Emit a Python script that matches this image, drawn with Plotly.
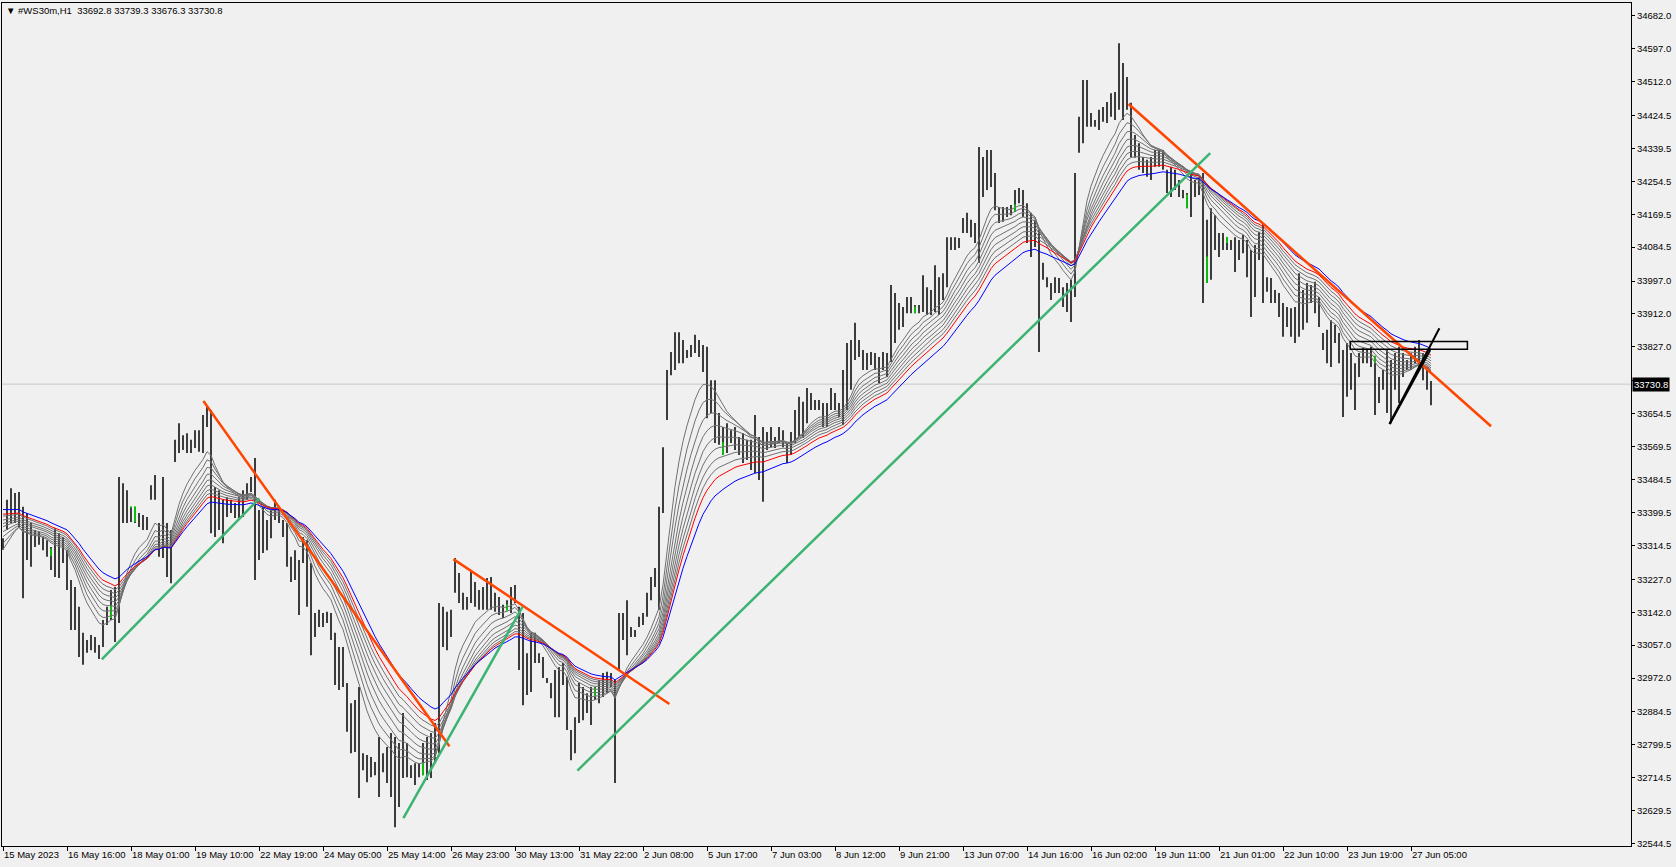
import plotly.graph_objects as go

# ---------------- data (2-hour bars) ----------------
bar_high = [
33333,33432,33462,33450,33452,33414,33398,33372,33354,33349,33336,33328,33310,33359,33346,33336,33302,33225,33207,33156,
33089,33070,33083,33078,33057,33122,33156,33199,33207,33491,33475,33457,33414,33414,33398,33393,33388,33470,33496,33372,
33491,33372,33354,33587,33630,33599,33604,33587,33612,33612,33651,33672,33664,33465,33457,33432,33439,33432,33424,33439,
33457,33475,33491,33540,33406,33414,33380,33406,33432,33411,33380,33372,33285,33302,33277,33336,33328,33269,33140,33148,
33140,33143,33140,33089,33052,33052,32959,32907,32915,32949,32778,32773,32768,32755,32820,32778,32794,32830,32820,32804,
32882,32804,32747,32752,32752,32804,32820,32830,32856,33166,33156,33143,33148,33282,33243,33192,33181,33246,33220,33199,
33207,33230,33233,33192,33181,33161,33173,33207,33212,33156,33140,33036,33089,33089,33036,33026,32972,32959,32993,33000,
33011,32975,32838,32871,32959,32949,32933,32949,32949,32967,32985,32988,32985,32967,33140,33140,33173,33104,33096,33130,
33140,33192,33233,33256,33414,33568,33767,33814,33865,33865,33845,33819,33832,33858,33845,33832,33827,33741,33741,33656,
33620,33630,33612,33620,33594,33604,33587,33587,33651,33594,33620,33607,33620,33594,33620,33612,33579,33607,33664,33698,
33685,33721,33708,33690,33690,33682,33682,33721,33708,33682,33767,33837,33845,33889,33845,33819,33811,33814,33811,33801,
33814,33811,33987,33966,33940,33930,33956,33956,33935,33935,34012,33981,33974,34038,34007,34017,34110,34110,34110,34108,
34160,34173,34155,34147,34343,34317,34335,34335,34276,34188,34188,34188,34193,34232,34237,34232,34198,34173,34155,34129,
34044,34007,33992,34007,34005,33981,33992,34000,34276,34421,34516,34516,34431,34413,34439,34446,34459,34482,34485,34611,
34560,34524,34457,34374,34353,34317,34310,34317,34335,34335,34335,34284,34292,34284,34258,34232,34224,34276,34258,34266,
34276,34155,34185,34167,34121,34121,34110,34103,34110,34103,34116,34103,34077,34090,34124,34147,34007,34005,33974,33966,
33940,33930,33927,33930,34017,33974,33992,33987,33995,33956,33863,33871,33896,33884,33863,33819,33837,33811,33785,33811,
33824,33819,33827,33803,33749,33767,33819,33793,33811,33827,33811,33793,33811,33827,33845,33811,33775,33739]

bar_low = [
33303,33354,33372,33372,33362,33178,33277,33259,33310,33316,33302,33285,33251,33233,33230,33269,33199,33096,33096,33026,
33006,33037,33044,33037,33021,33052,33109,33122,33065,33114,33372,33372,33375,33372,33362,33354,33354,33432,33432,33285,
33282,33233,33217,33530,33553,33561,33553,33553,33566,33556,33553,33620,33346,33336,33354,33320,33388,33398,33385,33385,
33388,33432,33452,33225,33277,33295,33302,33333,33380,33372,33336,33259,33220,33225,33135,33269,33156,33031,33078,33104,
33104,33114,33070,32954,32941,32949,32833,32778,32781,32662,32734,32703,32716,32721,32665,32729,32701,32665,32587,32639,
32714,32716,32714,32696,32716,32721,32709,32714,32752,32778,33052,33044,33078,33192,33166,33148,33148,33166,33156,33148,
33148,33148,33148,33143,33135,33127,33148,33140,33166,32993,32902,32928,32936,33011,33011,32972,32959,32920,32871,32871,
32954,32838,32760,32778,32856,32863,32882,32851,32915,32907,32923,32933,32949,32701,32993,33070,33031,33078,33078,33104,
33109,33130,33173,33207,33148,33398,33638,33754,33767,33785,33785,33798,33801,33811,33801,33762,33643,33656,33579,33574,
33548,33553,33579,33561,33548,33527,33535,33509,33501,33483,33427,33561,33568,33566,33579,33568,33527,33548,33579,33594,
33592,33630,33664,33664,33664,33620,33620,33664,33664,33646,33625,33664,33716,33793,33801,33767,33767,33780,33767,33734,
33767,33749,33788,33837,33871,33878,33914,33914,33914,33914,33917,33909,33909,33917,33909,33948,33981,34077,34077,34082,
34121,34121,34110,34095,34044,34214,34232,34240,34180,34147,34150,34162,34167,34175,34198,34162,34095,34059,34085,33814,
34000,33981,33948,33966,33966,33930,33917,33891,33956,34328,34353,34395,34395,34395,34387,34408,34405,34421,34413,34439,
34413,34439,34317,34315,34284,34276,34266,34258,34292,34292,34284,34224,34214,34232,34214,34211,34185,34162,34214,34219,
33940,33992,34000,34077,34059,34077,34077,34077,34020,34051,34069,34007,33904,33956,34051,33940,33969,33940,33940,33904,
33853,33878,33853,33837,33853,33871,33889,33940,33914,33878,33819,33785,33775,33837,33785,33646,33698,33716,33664,33749,
33785,33785,33775,33651,33682,33716,33656,33630,33716,33682,33749,33767,33767,33785,33767,33741,33716,33676]

# doji bars (drawn in the line-chart colour)
doji_bar = [12, 27, 32, 33, 105, 126, 148, 180, 228, 253, 296, 301, 306, 343]
doji_high = [33305, 33158, 33414, 33414, 32752, 33161, 32946, 33579, 33930, 34193, 34219, 34059, 34110, 33803]
doji_low = [33287, 33127, 33411, 33375, 32721, 33143, 32923, 33548, 33914, 34175, 34185, 33992, 34095, 33785]

# moving-average ribbon (EMA of median price, hourly periods) and start values
ma_periods = [20, 25, 30, 35, 40, 45, 50, 55, 60, 70]
ma_seed = [33304, 33320, 33337, 33350, 33363, 33371, 33380, 33390, 33395, 33407]
ma_colors = ["#707070"] * 8 + ["#ff0000", "#0000ff"]

# drawn objects (bar index, price)
orange_x0 = [50.1, 112.6, 281.4]
orange_y0 = [33687, 33279, 34454]
orange_x1 = [111.6, 166.6, 372.0]
orange_y1 = [32796, 32905, 33622]

green_x0 = [24.7, 100.1, 143.6]
green_y0 = [33020, 32610, 32733]
green_x1 = [64.1, 129.9, 301.8]
green_y1 = [33436, 33156, 34327]

black_x0 = [346.6, 346.7]
black_y0 = [33628, 33628]
black_x1 = [359.1, 356.8]
black_y1 = [33875, 33819]

rect_x = [336.8, 366.1]
rect_y = [33821, 33841]

last_price = 33730.8
title_text = "#WS30m,H1\u00a0\u00a033692.8 33739.3 33676.3 33730.8"

x_tick_bar = [0, 16, 32, 48, 64, 80, 96, 112, 128, 144, 160, 176, 192, 208, 224, 240, 256, 272, 288, 304, 320, 336, 352]
x_tick_text = ["15 May 2023", "16 May 16:00", "18 May 01:00", "19 May 10:00", "22 May 19:00", "24 May 05:00",
               "25 May 14:00", "26 May 23:00", "30 May 13:00", "31 May 22:00", "2 Jun 08:00", "5 Jun 17:00",
               "7 Jun 03:00", "8 Jun 12:00", "9 Jun 21:00", "13 Jun 07:00", "14 Jun 16:00", "16 Jun 02:00",
               "19 Jun 11:00", "21 Jun 01:00", "22 Jun 10:00", "23 Jun 19:00", "27 Jun 05:00"]
y_ticks = [34682.0, 34597.0, 34512.0, 34424.5, 34339.5, 34254.5, 34169.5, 34084.5, 33997.0, 33912.0, 33827.0,
           33739.5, 33654.5, 33569.5, 33484.5, 33399.5, 33314.5, 33227.0, 33142.0, 33057.0, 32972.0, 32884.5,
           32799.5, 32714.5, 32629.5, 32544.5]

# ---------------- figure ----------------
FONT = "Liberation Sans"
fig = go.Figure()

xs, ys = [], []
for i, (h, l) in enumerate(zip(bar_high, bar_low)):
    xs += [i, i, None]
    ys += [l, h, None]
fig.add_trace(go.Scatter(x=xs, y=ys, mode="lines", line=dict(color="#000000", width=1.5),
                         hoverinfo="skip", showlegend=False))

dx, dy = [], []
for i, h, l in zip(doji_bar, doji_high, doji_low):
    dx += [i, i, None]
    dy += [l, h + 1.5, None]
fig.add_trace(go.Scatter(x=dx, y=dy, mode="lines", line=dict(color="#00e000", width=1.5),
                         hoverinfo="skip", showlegend=False))

median = [(h + l) / 2 for h, l in zip(bar_high, bar_low)]
bar_idx = list(range(len(median)))
for period, seed, col in zip(ma_periods, ma_seed, ma_colors):
    a1 = 2.0 / (period + 1)
    a2 = 1 - (1 - a1) ** 2  # one plotted bar = two hourly bars
    vals = [seed]
    for m in median[1:]:
        vals.append(vals[-1] + a2 * (m - vals[-1]))
    fig.add_trace(go.Scatter(x=bar_idx, y=vals, mode="lines", line=dict(color=col, width=1),
                             hoverinfo="skip", showlegend=False))

shapes = []
shapes.append(dict(type="line", xref="paper", yref="y", x0=0, x1=1, y0=last_price, y1=last_price,
                   line=dict(color="#c8c8c8", width=1), layer="below"))
for x0, y0, x1, y1 in zip(orange_x0, orange_y0, orange_x1, orange_y1):
    shapes.append(dict(type="line", xref="x", yref="y", x0=x0, y0=y0, x1=x1, y1=y1,
                       line=dict(color="#ff4500", width=2.5)))
for x0, y0, x1, y1 in zip(green_x0, green_y0, green_x1, green_y1):
    shapes.append(dict(type="line", xref="x", yref="y", x0=x0, y0=y0, x1=x1, y1=y1,
                       line=dict(color="#3cb371", width=2.5)))
for x0, y0, x1, y1 in zip(black_x0, black_y0, black_x1, black_y1):
    shapes.append(dict(type="line", xref="x", yref="y", x0=x0, y0=y0, x1=x1, y1=y1,
                       line=dict(color="#000000", width=2)))
shapes.append(dict(type="rect", xref="x", yref="y", x0=rect_x[0], x1=rect_x[1], y0=rect_y[0], y1=rect_y[1],
                   line=dict(color="#000000", width=1.5), fillcolor="rgba(0,0,0,0)"))

annotations = [
    dict(xref="paper", yref="paper", x=0.0015, y=0.9995, xanchor="left", yanchor="top", showarrow=False,
         text="\u25bc\u00a0" + title_text, font=dict(family=FONT, size=9.5, color="#000000")),
    dict(xref="paper", yref="y", x=1, y=last_price, xanchor="left", yanchor="middle", xshift=1,
         showarrow=False, text="%.1f" % last_price, bgcolor="#000000", borderpad=1,
         font=dict(family=FONT, size=9.5, color="#ffffff")),
]

y_tick_text = ["" if abs(v - last_price) < 20 else "%.1f" % v for v in y_ticks]

fig.update_layout(
    width=1676, height=867,
    margin=dict(l=2, r=45, t=3, b=21, autoexpand=False),
    paper_bgcolor="#f0f0f0", plot_bgcolor="#f0f0f0",
    showlegend=False, hovermode=False,
    shapes=shapes, annotations=annotations,
    font=dict(family=FONT, size=9.5, color="#000000"),
)
fig.update_xaxes(range=[-0.25, 407.0], tickvals=x_tick_bar, ticktext=x_tick_text, tickangle=0,
                 ticks="outside", ticklen=4, tickcolor="#000000", tickwidth=1,
                 ticklabelposition="outside right",
                 showline=True, linecolor="#000000", linewidth=1, mirror=True,
                 showgrid=False, zeroline=False, tickfont=dict(family=FONT, size=9.5, color="#000000"))
fig.update_yaxes(range=[32538.3, 34714.8], side="right", tickvals=y_ticks, ticktext=y_tick_text,
                 ticks="outside", ticklen=3, tickcolor="#000000", tickwidth=1,
                 showline=True, linecolor="#000000", linewidth=1, mirror=True,
                 showgrid=False, zeroline=False, tickfont=dict(family=FONT, size=9.5, color="#000000"))

fig.write_html("out.html", config={"displayModeBar": False},
               post_script="document.body.style.margin='0';document.body.style.overflow='hidden';")
